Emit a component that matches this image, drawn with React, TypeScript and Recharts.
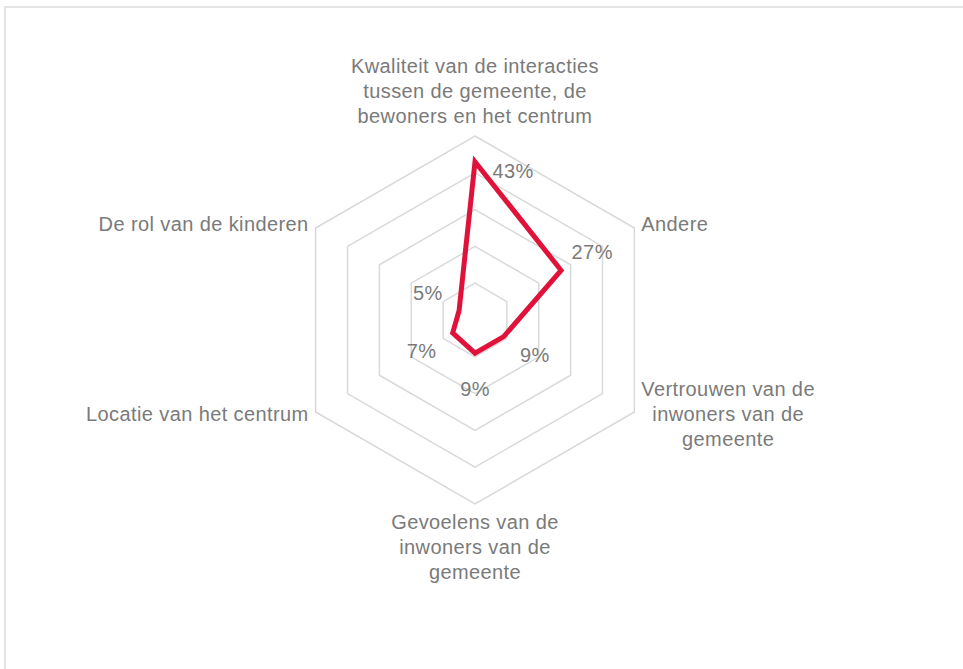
import { RadarChart, Radar, PolarGrid, PolarAngleAxis, PolarRadiusAxis } from "recharts";

const categories = [
  "Kwaliteit van de interacties tussen de gemeente, de bewoners en het centrum",
  "Andere",
  "Vertrouwen van de inwoners van de gemeente",
  "Gevoelens van de inwoners van de gemeente",
  "Locatie van het centrum",
  "De rol van de kinderen",
];

// how each category label is broken over lines
const categoryLines = [
  ["Kwaliteit van de interacties", "tussen de gemeente, de", "bewoners en het centrum"],
  ["Andere"],
  ["Vertrouwen van de", "inwoners van de", "gemeente"],
  ["Gevoelens van de", "inwoners van de", "gemeente"],
  ["Locatie van het centrum"],
  ["De rol van de kinderen"],
];

const shares = [43, 27, 9, 9, 7, 5]; // %
const radiusDomain = [0, 50];

const data = categories.map((name, i) => ({ name, value: shares[i] }));

const W = 963;
const H = 669;
const CX = 475;
const CY = 320;
const R = 184;

const FONT = '"Liberation Sans", Arial, Helvetica, sans-serif';
const FONT_SIZE = 20;
const LETTER_SPACING = 0.4;
const LINE_H = 25;
const TEXT = "#7a7a7a";
const LINE = "#E0123A";

let ctx: CanvasRenderingContext2D | null = null;
function textWidth(s: string) {
  if (!ctx) ctx = document.createElement("canvas").getContext("2d");
  if (!ctx) return s.length * FONT_SIZE * 0.5;
  ctx.font = `${FONT_SIZE}px ${FONT}`;
  return ctx.measureText(s).width + s.length * LETTER_SPACING;
}

const CategoryTick = (props: any) => {
  const { payload } = props;
  const idx = categories.indexOf(payload.value);
  const lines = categoryLines[idx] || [payload.value];
  const a = (payload.coordinate * Math.PI) / 180;
  const cos = Math.cos(a);
  const sin = Math.sin(a);
  const vx = CX + R * cos;
  const vy = CY - R * sin;

  let x = vx;
  let firstBaseline = vy;
  // lower spokes sit a little below their vertex, upper ones level with it
  const midShift = lines.length > 1 || sin < 0 ? 9 : 3;

  if (Math.abs(cos) < 0.1) {
    if (sin > 0) firstBaseline = vy - 13 - (lines.length - 1) * LINE_H;
    else firstBaseline = vy + 25;
  } else {
    const block = Math.max(...lines.map(textWidth));
    x = cos > 0 ? vx + 7 + block / 2 : vx - 7 - block / 2;
    firstBaseline = vy + midShift - ((lines.length - 1) * LINE_H) / 2;
  }

  return (
    <text
      x={x}
      y={firstBaseline}
      textAnchor="middle"
      fill={TEXT}
      fontFamily={FONT}
      fontSize={FONT_SIZE}
      letterSpacing={LETTER_SPACING}
    >
      {lines.map((l: string, i: number) => (
        <tspan key={i} x={x} y={firstBaseline + i * LINE_H}>
          {l}
        </tspan>
      ))}
    </text>
  );
};

// value labels sit just outside each point, along its spoke
const ValueLabel = (props: any) => {
  const { cx, cy, index, payload } = props;
  const value = payload && payload.value != null ? payload.value : shares[index];
  const dx = cx - CX;
  const dy = cy - CY;
  const len = Math.sqrt(dx * dx + dy * dy) || 1;
  let lx = cx + (36 * dx) / len;
  let ly = cy + (36 * dy) / len;
  if (dy / len < -0.95) {
    // top spoke: put it beside the peak instead of on the category text
    lx = cx + 38;
    ly = cy + 9;
  }
  return (
    <text
      key={`val-${index}`}
      x={lx}
      y={ly + 7}
      textAnchor="middle"
      fill={TEXT}
      fontFamily={FONT}
      fontSize={FONT_SIZE}
      letterSpacing={LETTER_SPACING}
    >
      {`${value}%`}
    </text>
  );
};

export default function App() {
  return (
    <div style={{ position: "absolute", left: 0, top: 0, width: W, height: H, background: "#fff" }}>
      <div
        style={{
          position: "absolute",
          left: 4,
          top: 6,
          width: W - 4,
          height: H - 6,
          borderTop: "2px solid #e4e4e4",
          borderLeft: "2px solid #e4e4e4",
          boxSizing: "border-box",
        }}
      />
      <div style={{ position: "absolute", left: 0, top: 0 }}>
        <RadarChart
          width={W}
          height={H}
          data={data}
          cx={CX}
          cy={CY}
          outerRadius={R}
          margin={{ top: 0, right: 0, bottom: 0, left: 0 }}
        >
          <PolarGrid gridType="polygon" radialLines={false} stroke="#d9d9d9" strokeWidth={1.5} />
          <PolarAngleAxis dataKey="name" tick={CategoryTick} tickLine={false} axisLine={false} />
          <PolarRadiusAxis domain={radiusDomain} tickCount={6} tick={false} axisLine={false} />
          <Radar
            dataKey="value"
            stroke={LINE}
            strokeWidth={5}
            strokeLinejoin="miter"
            fill="none"
            fillOpacity={0}
            dot={ValueLabel}
            isAnimationActive={false}
          />
        </RadarChart>
      </div>
    </div>
  );
}
